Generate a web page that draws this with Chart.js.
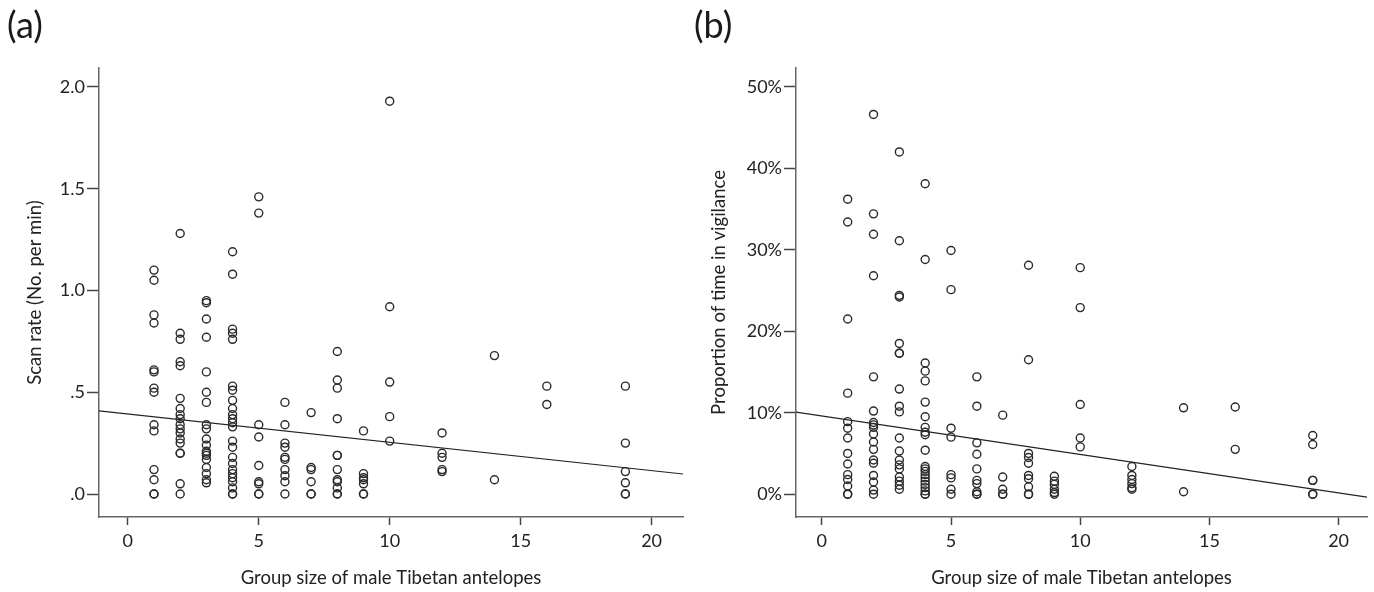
<!DOCTYPE html>
<html>
<head>
<meta charset="utf-8">
<script src="https://cdn.jsdelivr.net/npm/chart.js@4"></script>
<style>
  html, body { margin: 0; padding: 0; background: #fff; }
  #wrap { position: relative; width: 1374px; height: 592px; overflow: hidden; }
  canvas { position: absolute; top: 0; }
  .panel { position: absolute; top: 2px; font-family: Lato, 'Open Sans', sans-serif; font-size: 36px; color: #1a1a1a; }
</style>
</head>
<body>
<div id="wrap">
  <canvas id="chartA" width="690" height="592" style="left:0"></canvas>
  <canvas id="chartB" width="684" height="592" style="left:690px"></canvas>
  <div class="panel" style="left:7px">(a)</div>
  <div class="panel" style="left:694px">(b)</div>
</div>
<script>
// group sizes (x) shared by both panels
var groupSizes = [1, 2, 3, 4, 5, 6, 7, 8, 9, 10, 12, 14, 16, 19];

// (a) scan rate, No. per min, one list per group size
var scanRate = [
  [1.10, 1.05, 0.88, 0.84, 0.61, 0.60, 0.52, 0.50, 0.34, 0.31, 0.12, 0.07, 0, 0],
  [1.28, 0.79, 0.76, 0.65, 0.63, 0.47, 0.42, 0.39, 0.37, 0.34, 0.32, 0.30, 0.27, 0.25, 0.20, 0.20, 0.05, 0],
  [0.95, 0.94, 0.86, 0.77, 0.60, 0.50, 0.45, 0.34, 0.32, 0.27, 0.24, 0.21, 0.20, 0.19, 0.17, 0.13, 0.10, 0.07, 0.055],
  [1.19, 1.08, 0.81, 0.79, 0.76, 0.53, 0.51, 0.46, 0.42, 0.39, 0.37, 0.35, 0.33, 0.26, 0.23, 0.18, 0.15, 0.12, 0.10, 0.08, 0.06, 0.03, 0, 0],
  [1.46, 1.38, 0.34, 0.28, 0.14, 0.06, 0.05, 0, 0],
  [0.45, 0.34, 0.25, 0.23, 0.18, 0.17, 0.12, 0.09, 0.06, 0],
  [0.40, 0.13, 0.12, 0.06, 0, 0],
  [0.70, 0.56, 0.52, 0.37, 0.19, 0.19, 0.12, 0.07, 0.06, 0.03, 0, 0],
  [0.31, 0.10, 0.08, 0.07, 0.05, 0, 0],
  [1.93, 0.92, 0.55, 0.38, 0.26],
  [0.30, 0.20, 0.18, 0.12, 0.11],
  [0.68, 0.07],
  [0.53, 0.44],
  [0.53, 0.25, 0.11, 0.055, 0, 0]
];

// (b) proportion of time in vigilance, %
var vigilance = [
  [36.2, 33.4, 21.5, 12.4, 8.9, 8.1, 6.9, 5.0, 3.7, 2.4, 1.8, 1.0, 0, 0],
  [46.6, 34.4, 31.9, 26.8, 14.4, 10.2, 8.8, 8.5, 8.2, 7.4, 6.4, 5.5, 4.2, 3.8, 2.3, 1.5, 0.5, 0],
  [42.0, 31.1, 24.4, 24.2, 18.5, 17.3, 17.3, 12.9, 10.8, 10.1, 6.9, 5.3, 4.2, 3.6, 3.1, 2.1, 1.6, 1.1, 0.6],
  [38.1, 28.8, 16.1, 15.1, 13.9, 11.3, 9.5, 8.2, 7.6, 7.3, 5.4, 3.4, 3.1, 2.8, 2.4, 2.0, 1.6, 1.2, 0.8, 0.4, 0, 0],
  [29.9, 25.1, 8.1, 7.0, 2.4, 2.0, 0.6, 0],
  [14.4, 10.8, 6.3, 4.9, 3.1, 1.7, 1.3, 0.3, 0, 0],
  [9.7, 2.1, 0.6, 0, 0],
  [28.1, 16.5, 5.0, 4.5, 3.8, 2.3, 1.9, 0.9, 0, 0],
  [2.2, 1.6, 1.2, 0.6, 0.2, 0],
  [27.8, 22.9, 11.0, 6.9, 5.8],
  [3.4, 2.3, 1.8, 1.3, 0.8, 0.6],
  [10.6, 0.3],
  [10.7, 5.5],
  [7.2, 6.1, 1.7, 1.7, 0, 0]
];

// linear fits: [intercept, slope]
var fitA = [0.393, -0.0139];
var fitB = [9.6, -0.472];

var xTicks = [0, 5, 10, 15, 20];
var yTicksA = [0, 0.5, 1.0, 1.5, 2.0];
var yTicksB = [0, 10, 20, 30, 40, 50];

var xRangeA = [-1.1, 21.2];
var xRangeB = [-1.0, 21.1];

var FONT = "Lato, 'Open Sans', sans-serif";
var INK = '#222';

function toPoints(values) {
  var pts = [];
  for (var i = 0; i < groupSizes.length; i++) {
    for (var j = 0; j < values[i].length; j++) {
      pts.push({ x: groupSizes[i], y: values[i][j] });
    }
  }
  return pts;
}

function fitLine(fit, range) {
  return range.map(function(x) { return { x: x, y: fit[0] + fit[1] * x }; });
}

function scatterConfig(opts) {
  return {
    type: 'scatter',
    data: {
      datasets: [{
        data: toPoints(opts.values),
        pointRadius: 4,
        pointHoverRadius: 4,
        pointBorderWidth: 1.4,
        pointBorderColor: '#2a2a2a',
        pointBackgroundColor: 'rgba(0,0,0,0)'
      }, {
        type: 'line',
        data: fitLine(opts.fit, opts.xRange),
        borderColor: '#222',
        borderWidth: 1.1,
        pointRadius: 0,
        fill: false
      }]
    },
    options: {
      responsive: false,
      animation: false,
      layout: { padding: { top: 68, right: 7, left: 0, bottom: 0 } },
      plugins: { legend: { display: false }, tooltip: { enabled: false } },
      scales: {
        x: {
          type: 'linear',
          min: opts.xRange[0],
          max: opts.xRange[1],
          afterBuildTicks: function(s) { s.ticks = xTicks.map(function(v) { return { value: v }; }); },
          afterFit: function(s) { s.height = 75; },
          border: { display: true, color: '#666', width: 1.5 },
          grid: { drawOnChartArea: false, drawTicks: true, tickLength: 8, tickColor: '#444', tickWidth: 1.5 },
          ticks: { color: INK, font: { family: FONT, size: 18 }, padding: 5, maxRotation: 0 },
          title: {
            display: true,
            text: 'Group size of male Tibetan antelopes',
            color: INK,
            font: { family: FONT, size: 18.5 },
            padding: { top: 0, bottom: 3 }
          }
        },
        y: {
          type: 'linear',
          min: opts.yRange[0],
          max: opts.yRange[1],
          afterBuildTicks: function(s) { s.ticks = opts.yTicks.map(function(v) { return { value: v }; }); },
          afterFit: function(s) { s.width = opts.yWidth; },
          border: { display: true, color: '#666', width: 1.5 },
          grid: { drawOnChartArea: false, drawTicks: true, tickLength: 12, tickColor: '#444', tickWidth: 1.5 },
          ticks: { color: INK, font: { family: FONT, size: 18 }, padding: 2, callback: opts.tickLabel },
          title: {
            display: true,
            text: opts.yTitle,
            color: INK,
            font: { family: FONT, size: 18.5 },
            padding: { top: opts.yTitlePad, bottom: 0 }
          }
        }
      }
    }
  };
}

new Chart(document.getElementById('chartA'), scatterConfig({
  values: scanRate,
  fit: fitA,
  xRange: xRangeA,
  yRange: [-0.113, 2.093],
  yTicks: yTicksA,
  yWidth: 99,
  yTitle: 'Scan rate (No. per min)',
  yTitlePad: 24,
  tickLabel: function(v) { return v.toFixed(1).replace(/^0/, ''); }
}));

new Chart(document.getElementById('chartB'), scatterConfig({
  values: vigilance,
  fit: fitB,
  xRange: xRangeB,
  yRange: [-2.8, 52.3],
  yTicks: yTicksB,
  yWidth: 106,
  yTitle: 'Proportion of time in vigilance',
  yTitlePad: 18,
  tickLabel: function(v) { return v + '%'; }
}));
</script>
</body>
</html>
